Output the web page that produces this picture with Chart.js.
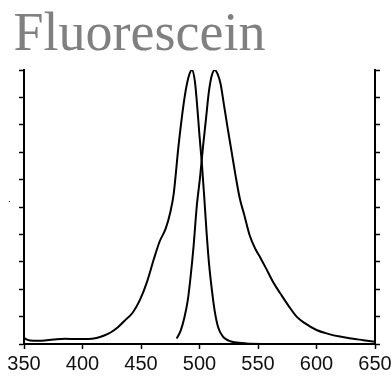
<!DOCTYPE html>
<html>
<head>
<meta charset="utf-8">
<script src="https://cdn.jsdelivr.net/npm/chart.js@4/dist/chart.umd.min.js"></script>
<style>
html,body{margin:0;padding:0;background:#fff;}
canvas{display:block;}
</style>
</head>
<body>
<canvas id="c" width="391" height="376"></canvas>
<script>
const chartTitle = ' Fluorescein';
const xTicks = [350, 400, 450, 500, 550, 600, 650];
const excitationNm = [350,353,358,365,375,385,395,405,412,418,424,430,436,443,449,455,461,466,471,475,478,482,485,488,491,493.5,496,498,500,502,504,506,508,510.5,513,516,520,525,530,540,560];
const excitationVal = [2.2,1.5,1.2,1.2,1.6,1.9,1.8,1.8,2.2,3.0,4.2,6.0,8.5,11.5,16,22.5,31,37.5,42,48,55,72,83,92,98,100,96,87,76,66,54,41,30,20,12,6,2.7,1.2,0.6,0.2,0];
const emissionNm = [480.5,484,487,490,492.5,495,497.6,500.5,503,505.5,508,510.5,513,515.5,518,521,524,527.5,531,534.5,538,543,548,552,557,563,569,576,583,590,600,610,620,630,640,650];
const emissionVal = [2,5,9.5,16,25,36,50,61,72,82,92,98,100,98.5,95,87,79,70,61,53,47.5,39.5,34.5,31.5,27.5,22.5,18.5,14,10,7.6,5.1,3.7,2.7,2.0,1.4,0.8];

const toPts = (xs, ys) => xs.map((x, i) => ({x: x, y: ys[i]}));

new Chart(document.getElementById('c'), {
  type: 'line',
  data: {
    datasets: [
      {label: 'Excitation', data: toPts(excitationNm, excitationVal), borderColor: '#000', borderWidth: 2, pointRadius: 0, cubicInterpolationMode: 'monotone', fill: false},
      {label: 'Emission', data: toPts(emissionNm, emissionVal), borderColor: '#000', borderWidth: 2, pointRadius: 0, cubicInterpolationMode: 'monotone', fill: false}
    ]
  },
  options: {
    responsive: false,
    animation: false,
    layout: {autoPadding: false, padding: {left: 0, right: 11, top: 0, bottom: 0}},
    plugins: {
      legend: {display: false},
      tooltip: {enabled: false},
      title: {
        display: true, text: chartTitle, align: 'start', color: '#808080',
        font: {family: '"Liberation Serif", "Times New Roman", serif', size: 54, weight: 'normal', lineHeight: 1},
        padding: {top: 9, bottom: 7}
      }
    },
    scales: {
      x: {
        type: 'linear', min: 350, max: 650,
        afterBuildTicks: (s) => { s.ticks = xTicks.map(v => ({value: v})); },
        afterFit: (s) => { s.height = 32; s.paddingLeft = 0; s.paddingRight = 0; },
        ticks: {color: '#111', font: {family: '"Liberation Sans", Arial, sans-serif', size: 20}, padding: 3, maxRotation: 0, autoSkip: false},
        grid: {drawOnChartArea: false, drawTicks: true, tickLength: 5, color: '#000', tickWidth: 1.5},
        border: {display: true, color: '#000', width: 2}
      },
      y: {
        type: 'linear', position: 'left', min: 0, max: 100,
        ticks: {display: false, stepSize: 10},
        title: {display: true, text: '    .', color: '#000', font: {size: 10, lineHeight: 1.2}, padding: {top: 1, bottom: 6}},
        grid: {drawOnChartArea: false, drawTicks: true, tickLength: 5, color: '#000', tickWidth: 1.5},
        border: {display: true, color: '#000', width: 2}
      },
      y2: {
        type: 'linear', position: 'right', min: 0, max: 100,
        ticks: {display: false, stepSize: 10},
        grid: {drawOnChartArea: false, drawTicks: true, tickLength: 5, color: '#000', tickWidth: 1.5},
        border: {display: true, color: '#000', width: 2}
      }
    }
  }
});
</script>
</body>
</html>
